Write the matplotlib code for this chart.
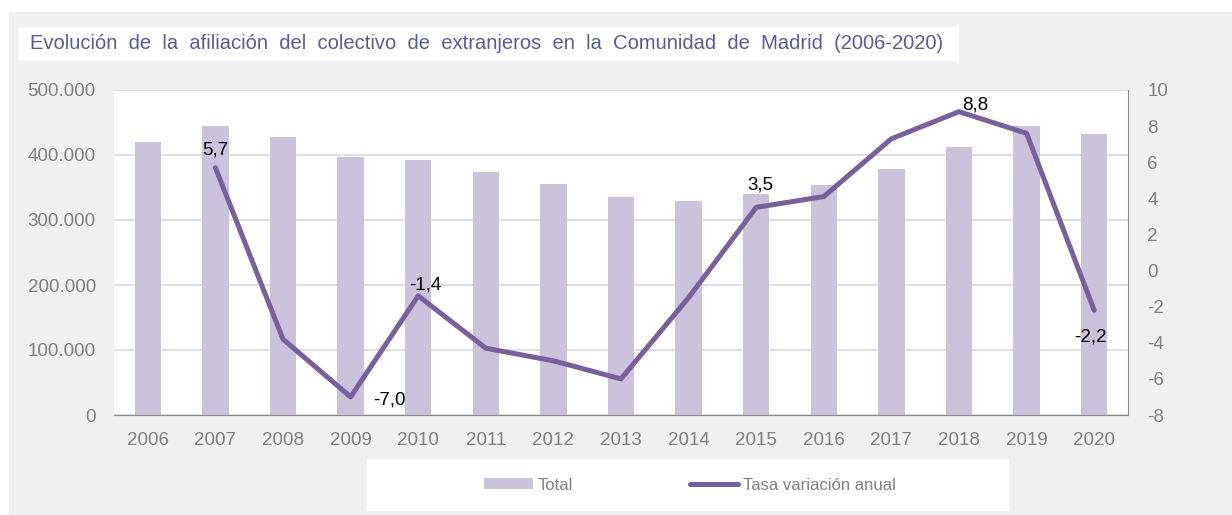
import matplotlib
matplotlib.use("Agg")
import matplotlib.pyplot as plt
from matplotlib.lines import Line2D
from matplotlib.patches import Patch, Rectangle

plt.rcParams['font.family'] = ['Liberation Sans', 'DejaVu Sans']
plt.rcParams['axes.unicode_minus'] = False

YEARS = ['2006', '2007', '2008', '2009', '2010', '2011', '2012', '2013',
         '2014', '2015', '2016', '2017', '2018', '2019', '2020']
TOTAL = [420000, 445000, 427000, 397000, 392000, 374000, 355000, 335000,
         329000, 340000, 354000, 378000, 413000, 445000, 433000]
# annual rate starts in 2007
RATE_YEARS = YEARS[1:]
RATE = [5.7, -3.8, -7.0, -1.4, -4.3, -5.0, -6.0, -1.5, 3.5, 4.1, 7.3, 8.8, 7.6, -2.2]
LABELED_YEARS = ['2007', '2009', '2010', '2015', '2018', '2020']

TITLE = 'Evolución de la afiliación del colectivo de extranjeros en la Comunidad de Madrid (2006-2020)'

BAR_COLOR = '#cbc2dc'
LINE_COLOR = '#77609b'
TITLE_COLOR = '#5b5a99'
TICK_COLOR = '#7f7f7f'
BG_COLOR = '#f0f0f0'

# label offsets in points (dx, dy, ha)
LABEL_OFFSETS = {
    '2007': (0, 13, 'center'),
    '2009': (16, -2, 'left'),
    '2010': (5, 8, 'center'),
    '2015': (3, 16, 'center'),
    '2018': (12, 5, 'center'),
    '2020': (-3, -19, 'center'),
}

W, H = 1232, 515
fig = plt.figure(figsize=(W / 100, H / 100), dpi=100, facecolor='white')

# gray panel and white boxes
fig.patches.append(Rectangle((9 / W, 0), 1 - 9 / W, (H - 12) / H,
                             transform=fig.transFigure, color=BG_COLOR, zorder=-10))
fig.patches.append(Rectangle((19 / W, (H - 60) / H), 939 / W, 33 / H,
                             transform=fig.transFigure, color='white', zorder=-9))
fig.patches.append(Rectangle((367 / W, 5 / H), 641 / W, 51 / H,
                             transform=fig.transFigure, color='white', zorder=-9))
# the original title is set with wide word spacing
fig.text(30 / W, (H - 43.5) / H, TITLE.replace(' ', '  '), color=TITLE_COLOR,
         fontsize=14.5, ha='left', va='center')

ax = fig.add_axes([114 / W, (H - 415) / H, 1014 / W, 325 / H])
ax.set_facecolor('white')
x = list(range(len(YEARS)))
ax.bar(x, TOTAL, width=0.39, color=BAR_COLOR, zorder=2)
ax.set_xlim(-0.5, len(YEARS) - 0.5)
ax.set_ylim(0, 500000)
ax.set_yticks(range(0, 500001, 100000))
ax.set_yticklabels([f"{v:,}".replace(',', '.') for v in range(0, 500001, 100000)])
ax.set_xticks(x)
ax.set_xticklabels(YEARS)
ax.yaxis.grid(True, color='#d9d9d9', linewidth=1.2, zorder=0)
ax.set_axisbelow(True)
for side in ['left', 'top']:
    ax.spines[side].set_visible(False)
ax.spines['right'].set_color('#8c8c8c')
ax.spines['bottom'].set_color('#8c8c8c')
ax.tick_params(axis='both', length=0, labelsize=13.5, labelcolor=TICK_COLOR)
ax.tick_params(axis='y', pad=13)
ax.tick_params(axis='x', pad=12)

ax2 = ax.twinx()
rx = [YEARS.index(y) for y in RATE_YEARS]
ax2.plot(rx, RATE, color=LINE_COLOR, linewidth=3.6, solid_capstyle='round',
         solid_joinstyle='round', zorder=3)
ax2.set_ylim(-8, 10)
ax2.set_yticks(range(-8, 11, 2))
for side in ['left', 'top', 'bottom', 'right']:
    ax2.spines[side].set_visible(False)
ax2.tick_params(axis='y', length=0, labelsize=13.5, labelcolor=TICK_COLOR, pad=14)

for year in LABELED_YEARS:
    i = RATE_YEARS.index(year)
    dx, dy, ha = LABEL_OFFSETS[year]
    ax2.annotate(f"{RATE[i]:.1f}".replace('.', ','), (rx[i], RATE[i]),
                 xytext=(dx, dy), textcoords='offset points', ha=ha, va='center',
                 fontsize=13.5, color='black')

handles = [Patch(facecolor=BAR_COLOR, edgecolor='none', label='Total'),
           Line2D([], [], color=LINE_COLOR, linewidth=3.6, solid_capstyle='round',
                  label='Tasa variación anual')]
fig.legend(handles=handles, loc='center', bbox_to_anchor=(690 / W, 30 / H), ncol=2,
           frameon=False, fontsize=12, labelcolor=TICK_COLOR, handlelength=2.9,
           handleheight=0.6, handletextpad=0.3, columnspacing=7.0)

fig.savefig('out.png', dpi=100, facecolor=fig.get_facecolor())
